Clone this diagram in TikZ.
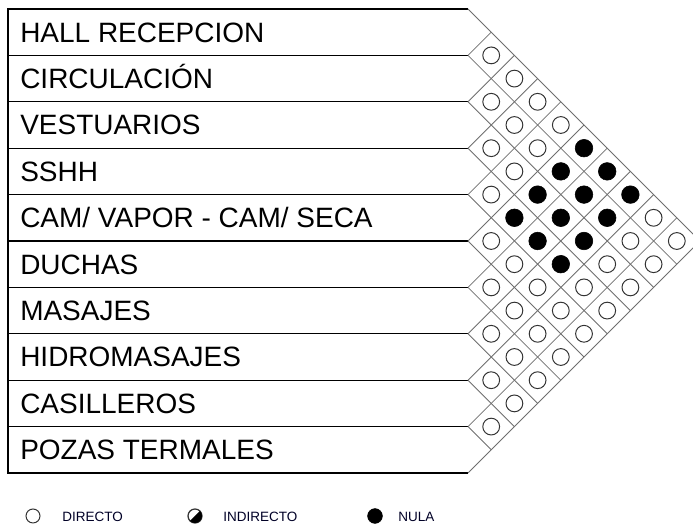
\documentclass[tikz,border=0pt]{standalone}
\usepackage{fontspec}
\setmainfont{Liberation Sans}
\usepackage{tikz}
\usetikzlibrary{positioning,calc}
\definecolor{gridgray}{RGB}{110,110,110}
\tikzset{
  rowlabel/.style={anchor=base west, inner sep=0pt, font=\fontsize{19.9}{24}\selectfont},
  rowline/.style={line width=0.75pt, draw=black},
  gridline/.style={line width=0.6pt, draw=gridgray},
  directo/.style={circle, draw=black!80, line width=0.7pt, fill=white, inner sep=0pt, minimum size=0.42cm},
  nula/.style={circle, draw=black, fill=black, inner sep=0pt, minimum size=0.44cm},
  legtext/.style={anchor=base west, inner sep=0pt, font=\fontsize{9.6}{11}\selectfont, text=black!85!blue},
}

\begin{document}
\begin{tikzpicture}[scale=1.0]
\useasboundingbox (0,0) rectangle (17.325,13.175);
% filas
\draw[rowline] (11.7,12.95) -- (0.2,12.95) -- (0.2,1.35) -- (11.7,1.35);
\draw[rowline] (0.2,11.79) -- (11.7,11.79);
\draw[rowline] (0.2,10.63) -- (11.7,10.63);
\draw[rowline] (0.2,9.47) -- (11.7,9.47);
\draw[rowline] (0.2,8.31) -- (11.7,8.31);
\draw[rowline] (0.2,7.15) -- (11.7,7.15);
\draw[rowline] (0.2,5.99) -- (11.7,5.99);
\draw[rowline] (0.2,4.83) -- (11.7,4.83);
\draw[rowline] (0.2,3.67) -- (11.7,3.67);
\draw[rowline] (0.2,2.51) -- (11.7,2.51);
\node[rowlabel] (r1) at (0.5,12.12) {HALL RECEPCION};
\node[rowlabel] (r2) at (0.5,10.96) {CIRCULACIÓN};
\node[rowlabel] (r3) at (0.5,9.80) {VESTUARIOS};
\node[rowlabel] (r4) at (0.5,8.64) {SSHH};
\node[rowlabel] (r5) at (0.5,7.48) {CAM/ VAPOR - CAM/ SECA};
\node[rowlabel] (r6) at (0.5,6.32) {DUCHAS};
\node[rowlabel] (r7) at (0.5,5.16) {MASAJES};
\node[rowlabel] (r8) at (0.5,4.00) {HIDROMASAJES};
\node[rowlabel] (r9) at (0.5,2.84) {CASILLEROS};
\node[rowlabel] (r10) at (0.5,1.68) {POZAS TERMALES};
% rombos
\draw[gridline] (11.7,12.95) -- ++(5.8,-5.8);
\draw[gridline] (11.7,11.79) -- ++(5.22,-5.22);
\draw[gridline] (11.7,10.63) -- ++(4.64,-4.64);
\draw[gridline] (11.7,9.47) -- ++(4.06,-4.06);
\draw[gridline] (11.7,8.31) -- ++(3.48,-3.48);
\draw[gridline] (11.7,7.15) -- ++(2.9,-2.9);
\draw[gridline] (11.7,5.99) -- ++(2.32,-2.32);
\draw[gridline] (11.7,4.83) -- ++(1.74,-1.74);
\draw[gridline] (11.7,3.67) -- ++(1.16,-1.16);
\draw[gridline] (11.7,2.51) -- ++(0.58,-0.58);
\draw[gridline] (11.7,11.79) -- ++(0.58,0.58);
\draw[gridline] (11.7,10.63) -- ++(1.16,1.16);
\draw[gridline] (11.7,9.47) -- ++(1.74,1.74);
\draw[gridline] (11.7,8.31) -- ++(2.32,2.32);
\draw[gridline] (11.7,7.15) -- ++(2.9,2.9);
\draw[gridline] (11.7,5.99) -- ++(3.48,3.48);
\draw[gridline] (11.7,4.83) -- ++(4.06,4.06);
\draw[gridline] (11.7,3.67) -- ++(4.64,4.64);
\draw[gridline] (11.7,2.51) -- ++(5.22,5.22);
\draw[gridline] (11.7,1.35) -- ++(5.8,5.8);
% relaciones
\node[directo] (c1-2) at (12.28,11.79) {};
\node[directo] (c1-3) at (12.86,11.21) {};
\node[directo] (c1-4) at (13.44,10.63) {};
\node[directo] (c1-5) at (14.02,10.05) {};
\node[nula] (c1-6) at (14.6,9.47) {};
\node[nula] (c1-7) at (15.18,8.89) {};
\node[nula] (c1-8) at (15.76,8.31) {};
\node[directo] (c1-9) at (16.34,7.73) {};
\node[directo] (c1-10) at (16.92,7.15) {};
\node[directo] (c2-3) at (12.28,10.63) {};
\node[directo] (c2-4) at (12.86,10.05) {};
\node[directo] (c2-5) at (13.44,9.47) {};
\node[nula] (c2-6) at (14.02,8.89) {};
\node[nula] (c2-7) at (14.6,8.31) {};
\node[nula] (c2-8) at (15.18,7.73) {};
\node[directo] (c2-9) at (15.76,7.15) {};
\node[directo] (c2-10) at (16.34,6.57) {};
\node[directo] (c3-4) at (12.28,9.47) {};
\node[directo] (c3-5) at (12.86,8.89) {};
\node[nula] (c3-6) at (13.44,8.31) {};
\node[nula] (c3-7) at (14.02,7.73) {};
\node[nula] (c3-8) at (14.6,7.15) {};
\node[directo] (c3-9) at (15.18,6.57) {};
\node[directo] (c3-10) at (15.76,5.99) {};
\node[directo] (c4-5) at (12.28,8.31) {};
\node[nula] (c4-6) at (12.86,7.73) {};
\node[nula] (c4-7) at (13.44,7.15) {};
\node[nula] (c4-8) at (14.02,6.57) {};
\node[directo] (c4-9) at (14.6,5.99) {};
\node[directo] (c4-10) at (15.18,5.41) {};
\node[directo] (c5-6) at (12.28,7.15) {};
\node[directo] (c5-7) at (12.86,6.57) {};
\node[directo] (c5-8) at (13.44,5.99) {};
\node[directo] (c5-9) at (14.02,5.41) {};
\node[directo] (c5-10) at (14.6,4.83) {};
\node[directo] (c6-7) at (12.28,5.99) {};
\node[directo] (c6-8) at (12.86,5.41) {};
\node[directo] (c6-9) at (13.44,4.83) {};
\node[directo] (c6-10) at (14.02,4.25) {};
\node[directo] (c7-8) at (12.28,4.83) {};
\node[directo] (c7-9) at (12.86,4.25) {};
\node[directo] (c7-10) at (13.44,3.67) {};
\node[directo] (c8-9) at (12.28,3.67) {};
\node[directo] (c8-10) at (12.86,3.09) {};
\node[directo] (c9-10) at (12.28,2.51) {};
% leyenda
\node[directo, minimum size=0.35cm] (ld) at (0.825,0.275) {};
\node[legtext] (ldt) at (1.55,0.13) {DIRECTO};
\node[directo, minimum size=0.35cm, line width=0.9pt] (li) at (4.875,0.275) {};
\fill[black] (li.center) ++(45:0.175) arc[start angle=45, end angle=-135, radius=0.175] -- cycle;
\node[legtext] (lit) at (5.575,0.13) {INDIRECTO};
\node[nula, minimum size=0.37cm] (ln) at (9.375,0.275) {};
\node[legtext] (lnt) at (9.95,0.13) {NULA};
\end{tikzpicture}
\end{document}
